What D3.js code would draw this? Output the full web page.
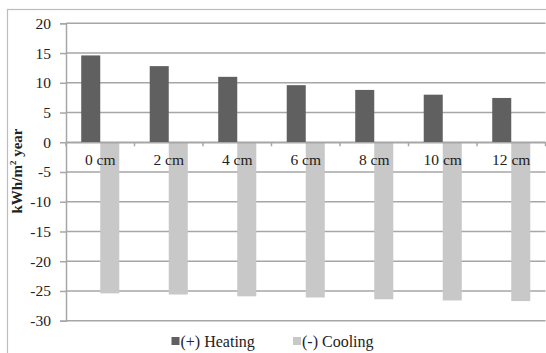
<!DOCTYPE html>
<html><head><meta charset="utf-8">
<script src="https://cdn.jsdelivr.net/npm/d3@7"></script>
<style>body{margin:0;background:#fff}svg{display:block}</style>
</head><body>
<svg id="c" width="546" height="353" font-family="Liberation Serif, serif"></svg>
<script>
const categories = ["0 cm","2 cm","4 cm","6 cm","8 cm","10 cm","12 cm"];
const heating = [14.6, 12.8, 11.0, 9.6, 8.8, 8.0, 7.45];
const cooling = [-25.4, -25.6, -25.9, -26.1, -26.4, -26.6, -26.7];
const yTicks = [20,15,10,5,0,-5,-10,-15,-20,-25,-30];
const seriesNames = ["(+) Heating","(-) Cooling"];
const colors = ["#606060","#c8c8c8"];

const FF = '"Liberation Serif"';
const FS = "15.5px";
const svg = d3.select("#c");
const m = {l:66, r:545.5, t:23.3, b:320.7};

svg.append("rect").attr("x",7.5).attr("y",9.5).attr("width",560).attr("height",360)
  .attr("fill","none").attr("stroke","#bdbdbd").attr("stroke-width",1.2);

const y = d3.scaleLinear().domain([-30,20]).range([m.b,m.t]);
const x = d3.scaleBand().domain(categories).range([m.l,m.r]).paddingInner(0).paddingOuter(0);
const sub = d3.scaleBand().domain([0,1]).range([0,x.bandwidth()]).paddingInner(0).paddingOuter(0.8);

// gridlines
svg.append("g").selectAll("line").data(yTicks).join("line")
  .attr("x1",m.l).attr("x2",m.r).attr("y1",d=>y(d)).attr("y2",d=>y(d))
  .attr("stroke","#a6a6a6").attr("stroke-width",1.5);

// y axis
const ya = svg.append("g").attr("transform",`translate(${m.l},0)`)
  .call(d3.axisLeft(y).tickValues(yTicks).tickSize(6).tickPadding(9).tickFormat(d3.format("d")));
ya.attr("font-family",FF).attr("font-size",FS);
ya.select(".domain").attr("stroke","#a6a6a6").attr("stroke-width",1.5);
ya.selectAll(".tick line").attr("stroke","#a6a6a6").attr("stroke-width",1.5);
ya.selectAll("text").style("font-family",FF).style("font-size",FS).attr("fill","#222").text(d=>d<0?"-"+Math.abs(d):d);

// bars
const g = svg.append("g");
g.selectAll("rect.h").data(heating).join("rect")
  .attr("x",(d,i)=>x(categories[i])+sub(0)).attr("width",sub.bandwidth())
  .attr("y",d=>y(d)).attr("height",d=>y(0)-y(d)).attr("fill",colors[0]);
g.selectAll("rect.c").data(cooling).join("rect")
  .attr("x",(d,i)=>x(categories[i])+sub(1)).attr("width",sub.bandwidth())
  .attr("y",y(0)).attr("height",d=>y(d)-y(0)).attr("fill",colors[1]);

// category axis at zero
const xa = svg.append("g").attr("transform",`translate(0,${y(0)})`)
  .call(d3.axisBottom(x).tickSize(0).tickPadding(12));
xa.attr("font-family",FF).attr("font-size",FS);
xa.select(".domain").attr("stroke","#a6a6a6").attr("stroke-width",1.5);
xa.selectAll("text").style("font-family",FF).style("font-size",FS).attr("fill","#222");
svg.append("g").selectAll("line").data(d3.range(categories.length+1)).join("line")
  .attr("x1",i=>m.l+i*x.step()).attr("x2",i=>m.l+i*x.step())
  .attr("y1",y(0)).attr("y2",y(0)+4).attr("stroke","#a6a6a6").attr("stroke-width",1.5);

// y title
const t = svg.append("text").attr("transform","translate(22,171) rotate(-90)")
  .attr("text-anchor","middle").style("font-family",FF).style("font-size","15px").style("font-weight","bold").attr("fill","#222");
t.append("tspan").text("kWh/m");
t.append("tspan").style("font-size","9px").attr("dy",-6).text("2");
t.append("tspan").attr("dy",6).text(" year");

// legend
const lg = svg.append("g");
const lx = [171.5, 293];
seriesNames.forEach((s,i)=>{
  lg.append("rect").attr("x",lx[i]).attr("y",337).attr("width",8).attr("height",8).attr("fill",colors[i]);
  lg.append("text").attr("x",lx[i]+9).attr("y",346.7).style("font-family",FF).style("font-size","16px").attr("fill","#222").text(s);
});
</script>
</body></html>
